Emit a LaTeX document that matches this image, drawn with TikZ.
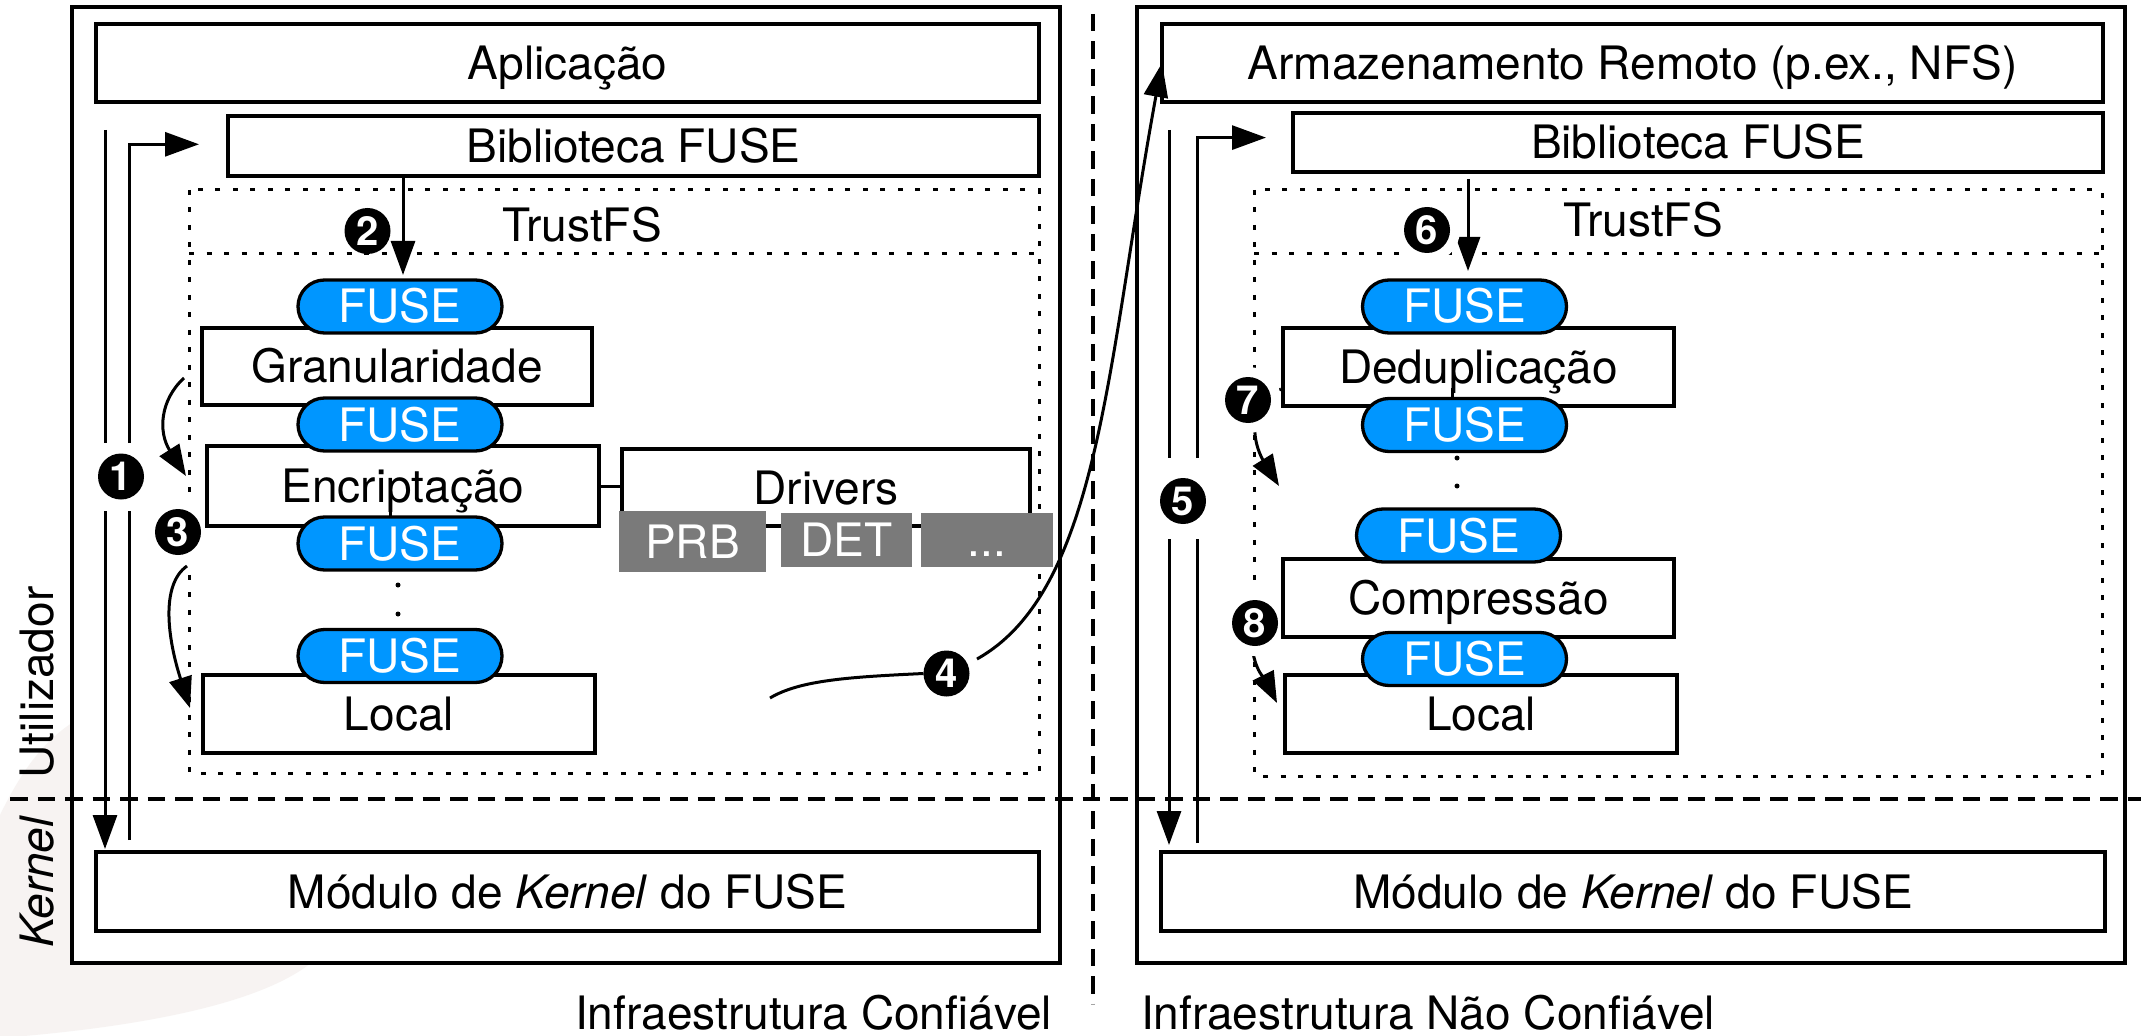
\documentclass[tikz,border=0pt]{standalone}
\usepackage{fontspec}
\setmainfont{TeX Gyre Heros}
\usetikzlibrary{arrows.meta,calc}

\definecolor{fuseblue}{RGB}{0,150,255}
\definecolor{drvgray}{RGB}{122,122,122}
\definecolor{haze}{RGB}{247,243,242}

\tikzset{
  lbl/.style={font=\fontsize{13.1pt}{15pt}\selectfont, inner sep=0pt, outer sep=0pt,
    text height=3.3mm, text depth=0mm},
  % rectangle given by its two corners, in drawing units of 0.1mm
  span/.style n args={4}{at={({(#1+#3)/2},{(#2+#4)/2})},
    minimum width={(#3-#1)*0.1mm}, minimum height={(#4-#2)*0.1mm}},
  boxline/.style={draw, line width=0.33mm, fill=white, inner sep=0pt, outer sep=0pt},
  blk/.style={boxline, lbl},
  pill/.style={lbl, draw, line width=0.33mm, fill=fuseblue, text=white,
    minimum width=20.4mm, minimum height=5.3mm, rounded corners=2.65mm},
  drvbox/.style={lbl, fill=drvgray, text=white},
  zonedots/.style={line width=0.3mm, dash pattern=on 0.5mm off 1.25mm},
  conn/.style={line width=0.3mm},
  arr/.style={-{Triangle[length=3.4mm,width=2.4mm]}},
  carr/.style={-{Triangle[length=3.1mm,width=2.3mm]}},
  stepnum/.style={circle, fill=black, text=white, minimum size=4.6mm, inner sep=0pt,
    outer sep=0pt, font=\fontsize{11.4pt}{12pt}\selectfont\bfseries},
  halo/.style={preaction={draw=white, line width=2mm}},
  sepline/.style={line width=0.35mm, dash pattern=on 1.75mm off 1mm},
}

\begin{document}
\begin{tikzpicture}[x=0.1mm, y=-0.1mm]
\useasboundingbox (0,0) rectangle (2141,1036);
\fill[white] (0,0) rectangle (2141,1036);

% soft backdrop in the lower left corner
\fill[haze] (0,815) .. controls (22,770) and (45,738) .. (80,718) -- (330,718)
  -- (320,955) .. controls (270,1005) and (130,1028) .. (0,1038) -- cycle;

% hosts
\node[boxline, span={72}{7}{1060}{963}] (hostL) {};
\node[boxline, span={1137}{7}{2125}{963}] (hostR) {};

% top and bottom layers
\node[blk, span={96}{24}{1039}{102}] (app) {Aplicação};
\node[blk, span={228}{116}{1039}{176}] (bibL) {Biblioteca FUSE};
\node[blk, span={96}{852}{1039}{931}] (modL) {Módulo de \textit{Kernel} do FUSE};
\node[blk, span={1162}{24}{2103}{102}] (nfs) {Armazenamento Remoto (p.ex., NFS)};
\node[blk, span={1293}{113}{2103}{172}] (bibR) {Biblioteca FUSE};
\node[blk, span={1161}{852}{2105}{931}] (modR) {Módulo de \textit{Kernel} do FUSE};

% TrustFS zones
\draw[zonedots] (189,190) rectangle (1039,773);
\draw[zonedots] (189,254) -- (1039,254);
\draw[zonedots] (1254,190) rectangle (2102,776);
\draw[zonedots] (1254,254) -- (2102,254);
\node[lbl] (tfsL) at (582,225) {TrustFS};
\node[lbl] (tfsR) at (1643,220) {TrustFS};

% pill anchors used by the arrows
\coordinate (pL1top) at (400,280);
\coordinate (pR1top) at (1464.5,280);

% step 1: kernel round trip (left)
\coordinate (d1a) at (105,130);
\coordinate (d1b) at (105,443);
\coordinate (d1c) at (105,511);
\draw[conn] (d1a) -- (d1b);
\draw[conn, arr, shorten >=0.3mm] (d1c) -- (d1c |- modL.north);
\coordinate (u1a) at (129,840);
\coordinate (u1b) at (129,511);
\coordinate (u1c) at (129,443);
\draw[conn] (u1a) -- (u1b);
\draw[conn, arr] (u1c) |- ($(bibL.west)+(-29,-1.7)$);

% step 5: kernel round trip (right)
\coordinate (d5a) at (1169,130);
\coordinate (d5b) at (1169,458);
\coordinate (d5c) at (1169,539);
\draw[conn] (d5a) -- (d5b);
\draw[conn, arr, shorten >=0.7mm] (d5c) -- (d5c |- modR.north);
\coordinate (u5a) at (1197,843);
\coordinate (u5b) at (1197,539);
\coordinate (u5c) at (1197,458);
\draw[conn] (u5a) -- (u5b);
\draw[conn, arr] (u5c) |- ($(bibR.west)+(-27,-4.9)$);

% steps 2 and 6: library into the layer stack
\coordinate (a2s) at (403,176);
\draw[conn, arr, shorten >=0.5mm] (a2s) -- (a2s |- pL1top);
\coordinate (a6s) at (1468,179);
\draw[conn, arr, shorten >=0.9mm] (a6s) -- (a6s |- pR1top);

% step 3: down the left stack
\coordinate (c3a) at (184,378);
\coordinate (c3b) at (186,476);
\draw[conn, carr] (c3a) .. controls (160,400) and (158,432) .. (c3b);
\coordinate (c3c) at (187,566);
\coordinate (c3d) at (190,708);
\draw[conn, carr] (c3c) .. controls (160,585) and (168,640) .. (c3d);

% step 4: out to remote storage
\node[stepnum] (m4) at (946.5,673.5) {4};
\coordinate (c4a) at (770,698);
\draw[conn] (c4a) .. controls (800,680) and (850,677) .. (m4.west);
\coordinate (c4b) at (977,659);
\draw[conn, arr] (c4b) .. controls (1100,590) and (1107,362) .. (nfs.west);

% steps 7 and 8: down the right stack
\coordinate (c7a) at (1281,389);
\coordinate (c7b) at (1279,486);
\draw[conn, carr] (c7a) .. controls (1240,410) and (1258,452) .. (c7b);
\coordinate (c8a) at (1252,645);
\coordinate (c8b) at (1277,703);
\draw[conn, carr] (c8a) .. controls (1254,670) and (1266,681) .. (c8b);

% step markers
\node[stepnum] (m1) at (121,476.5) {1};
\node[stepnum] (m2) at (367.5,231) {2};
\node[stepnum, halo] (m3) at (178,532) {3};
\node[stepnum] (m5) at (1183,501) {5};
\node[stepnum, halo] (m6) at (1427,230) {6};
\node[stepnum, halo] (m7) at (1248,400) {7};
\node[stepnum, halo] (m8) at (1255,623) {8};

% left layer stack
\node[blk, span={202}{328}{592}{405}] (gran) {Granularidade};
\node[blk, span={207}{446}{599}{526}] (enc) {Encriptação};
\node[blk, span={203}{675}{595}{753}] (locL) {Local};
\draw[conn] (390,497) -- (390,526);
\node[blk, span={622}{449}{1030}{526}] (drv) {Drivers};
\draw[conn] (enc.east) -- (enc.east -| drv.west);
\node[drvbox, span={619}{511}{766}{572}] (prb) {PRB};
\node[drvbox, span={781}{513}{912}{567}] (det) {DET};
\node[drvbox, span={921}{513}{1053}{567}] (etc) {...};
\node[pill] (pL1) at (400,306.5) {FUSE};
\node[pill] (pL2) at (400,424.5) {FUSE};
\node[pill] (pL3) at (400,543.5) {FUSE};
\node[pill] (pL4) at (400,656) {FUSE};
\fill (398,585) circle (0.25mm);
\fill (398,614) circle (0.25mm);

% right layer stack
\node[blk, span={1283}{328}{1674}{406}] (dedup) {Deduplicação};
\draw[conn] (1452,388) -- (1452,406);
\node[blk, span={1283}{559}{1674}{637}] (comp) {Compressão};
\node[blk, span={1285}{675}{1677}{753}] (locR) {Local};
\node[pill] (pR1) at (1464.5,306.5) {FUSE};
\node[pill] (pR2) at (1464.5,425) {FUSE};
\node[pill] (pR3) at (1458.5,535.5) {FUSE};
\node[pill] (pR4) at (1464.5,659) {FUSE};
\fill (1457,458) circle (0.25mm);
\fill (1457,486) circle (0.25mm);

% user / kernel and trust boundaries
\draw[sepline] (10,799) -- (2141,799);
\draw[sepline] (1093,14) -- (1093,1004);

\node[lbl, rotate=90, anchor=base] (usr) at (53,682.5) {Utilizador};
\node[lbl, rotate=90, anchor=base] (krn) at (53,882.5) {\itshape Kernel};
\node[lbl, anchor=base east] (trusted) at (1052,1029) {Infraestrutura Confiável};
\node[lbl, anchor=base west] (untrusted) at (1141,1029) {Infraestrutura Não Confiável};
\end{tikzpicture}
\end{document}
